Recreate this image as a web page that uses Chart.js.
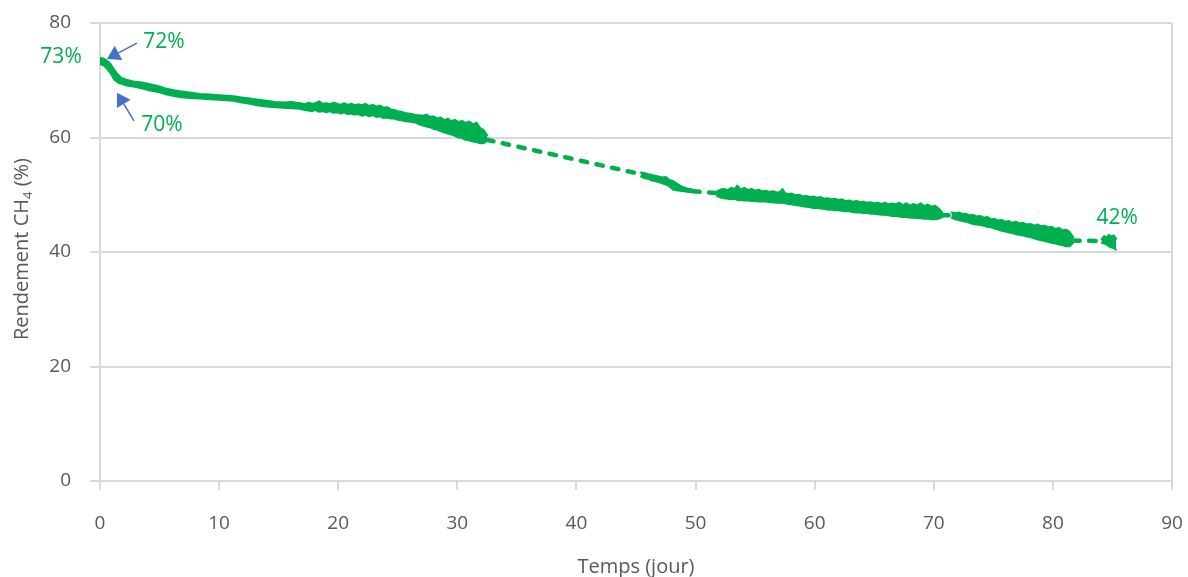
<!DOCTYPE html>
<html><head><meta charset="utf-8">
<script src="https://cdn.jsdelivr.net/npm/chart.js@4/dist/chart.umd.min.js"></script>
<style>html,body{margin:0;padding:0;background:#fff}canvas{display:block}</style>
</head><body>
<canvas id="c" width="1188" height="577"></canvas>
<script>
// ---- Data ----
const xTickValues = [0,10,20,30,40,50,60,70,80,90];
const yTickValues = [0,20,40,60,80];

// Measured data, drawn as a noisy band: upper / lower edge per segment (day, % CH4)
const days1 = [0,0.3,0.6,0.9,1.2,1.5,1.8,2.2,2.8,3.5,4.2,5.0,5.6,6.3,7.0,7.7,8.4,9.2,10.0,10.6,11.2,11.9,12.6,13.3,14.0,14.7,15.4,16.1,16.8,17.2,17.5,17.8,18.1,18.4,18.7,19.0,19.3,19.6,19.9,20.2,20.5,20.8,21.1,21.4,21.7,22.0,22.3,22.6,22.9,23.2,23.5,23.8,24.1,24.4,24.7,25.0,25.3,25.6,25.9,26.2,26.5,26.8,27.1,27.4,27.7,28.0,28.3,28.6,28.9,29.2,29.5,29.8,30.1,30.4,30.7,31.0,31.3,31.6,31.9,32.2,32.5];
const high1 = [73.9,73.8,73.4,72.8,71.8,71.0,70.4,70.1,69.8,69.6,69.3,68.9,68.5,68.2,68.0,67.8,67.6,67.5,67.4,67.3,67.2,67.0,66.8,66.6,66.4,66.2,66.1,66.2,66.0,65.8,66.1,65.9,66.0,66.3,65.9,66.0,65.8,66.1,65.9,65.7,66.0,65.7,65.9,65.6,65.8,65.6,65.9,65.5,65.7,65.4,65.6,65.2,65.3,64.9,64.8,64.6,64.5,64.3,64.2,64.1,63.9,63.9,63.8,64.0,63.6,63.7,63.3,63.5,63.0,63.3,62.8,63.1,62.7,62.9,62.5,62.8,62.3,62.6,61.7,61.3,60.4];
const low1  = [72.8,72.6,72.0,71.2,70.1,69.6,69.4,69.1,68.9,68.6,68.2,67.9,67.5,67.2,67.0,66.9,66.8,66.7,66.6,66.5,66.4,66.1,65.9,65.6,65.4,65.3,65.2,65.1,65.0,64.8,64.7,64.6,64.8,64.5,64.6,64.4,64.6,64.3,64.4,64.2,64.4,64.1,64.2,64.0,64.1,63.8,64.0,63.7,63.9,63.6,63.7,63.4,63.5,63.3,63.3,63.1,63.0,62.9,62.8,62.7,62.6,62.3,62.1,61.9,61.8,61.5,61.4,61.1,60.9,60.7,60.5,60.3,60.0,59.9,59.6,59.5,59.3,59.2,59.0,59.0,59.4];

const days2 = [45.4,45.7,46.0,46.3,46.6,46.9,47.2,47.5,47.8,48.1,48.4,48.7,49.0,49.3,49.6,49.8];
const high2 = [53.9,53.8,53.6,53.5,53.3,53.2,53.0,53.1,52.6,52.4,52.0,51.6,51.3,51.1,51.0,50.9];
const low2  = [53.2,52.9,52.8,52.5,52.4,52.2,52.0,51.8,51.5,50.9,50.8,50.7,50.6,50.5,50.5,50.4];

const days3 = [51.8,52.1,52.4,52.7,53.0,53.3,53.5,53.8,54.1,54.4,54.7,55.0,55.3,55.6,55.9,56.2,56.5,56.8,57.1,57.3,57.5,57.8,58.1,58.4,58.7,59.0,59.3,59.6,59.9,60.2,60.5,60.8,61.1,61.4,61.7,62.0,62.3,62.6,62.9,63.2,63.5,63.8,64.1,64.4,64.7,65.0,65.3,65.6,65.9,66.2,66.5,66.8,67.1,67.4,67.7,68.0,68.3,68.6,68.9,69.2,69.5,69.8,70.1,70.4,70.7];
const high3 = [50.6,50.9,51.0,50.8,51.2,51.0,51.6,50.9,51.2,50.8,51.0,50.7,50.9,50.6,50.7,50.5,50.6,50.4,50.5,51.0,50.3,50.1,50.2,49.9,50.0,49.7,49.8,49.6,49.7,49.5,49.6,49.3,49.4,49.2,49.3,49.1,49.2,48.9,49.0,48.8,48.9,48.7,48.8,48.6,48.7,48.5,48.6,48.4,48.6,48.3,48.5,48.3,48.6,48.2,48.5,48.1,48.4,48.1,48.5,48.0,48.3,47.9,48.1,47.6,46.9];
const low3  = [49.8,49.5,49.4,49.3,49.2,49.3,49.1,49.1,49.0,49.0,48.9,48.9,48.8,48.8,48.8,48.7,48.7,48.6,48.6,48.6,48.5,48.4,48.3,48.2,48.1,48.0,47.9,47.8,47.7,47.7,47.6,47.5,47.4,47.4,47.3,47.3,47.2,47.1,47.1,47.0,46.9,46.9,46.8,46.8,46.7,46.7,46.6,46.5,46.5,46.4,46.3,46.3,46.2,46.1,46.1,46.0,46.0,45.9,45.9,45.8,45.8,45.7,45.7,45.8,46.1];

const days4 = [71.5,71.8,72.1,72.4,72.7,73.0,73.3,73.6,73.9,74.2,74.5,74.8,75.1,75.4,75.7,76.0,76.3,76.6,76.9,77.2,77.5,77.8,78.1,78.4,78.7,79.0,79.3,79.6,79.9,80.2,80.5,80.8,81.1,81.4,81.7];
const high4 = [46.9,46.8,46.9,46.6,46.7,46.4,46.5,46.2,46.3,46.0,46.1,45.7,45.8,45.5,45.6,45.3,45.4,45.1,45.3,45.0,45.1,44.8,44.9,44.6,44.8,44.5,44.6,44.3,44.4,44.0,44.2,43.8,43.9,43.5,42.6];
const low4  = [46.0,45.7,45.6,45.4,45.3,45.1,44.9,44.8,44.7,44.6,44.4,44.3,44.1,43.9,43.7,43.6,43.4,43.3,43.1,43.0,42.9,42.7,42.6,42.4,42.2,42.1,41.9,41.8,41.6,41.5,41.3,41.2,41.0,41.0,41.6];

const days5 = [84.1,84.3,84.5,84.7,84.9,85.1,85.3];
const high5 = [42.2,42.8,42.5,43.0,42.7,42.9,42.3];
const low5  = [41.6,41.5,41.3,41.0,40.8,40.7,40.4];

// dashed connectors over missing data
const gapStartDays = [32.5,49.8,70.7,81.7];
const gapStartVals = [59.6,50.6,46.4,42.0];
const gapEndDays   = [45.4,51.8,71.5,84.1];
const gapEndVals   = [53.6,50.3,46.4,41.9];

// annotations
const labelTexts = ['73%','72%','70%','42%'];
const labelDays  = [-3.27,5.37,5.2,85.4];
const labelVals  = [74.06,76.7,62.2,45.9];
const arrowTailDays = [3.1,2.85];
const arrowTailVals = [76.5,62.9];
const arrowTipDays  = [0.59,1.43];
const arrowTipVals  = [73.7,67.8];

// ---- Build datasets ----
const GREEN = '#00B050';
const GRID = '#D9D9D9';
const TXT = '#595959';
const FONT = "'Open Sans', 'Noto Sans', sans-serif";

const datasets = [];
[[days1,high1,low1],[days2,high2,low2],[days3,high3,low3],[days4,high4,low4],[days5,high5,low5]].forEach(s=>{
  const base = {borderColor:GREEN, backgroundColor:GREEN, borderWidth:2, pointRadius:0, tension:0,
                borderJoinStyle:'round', borderCapStyle:'round'};
  datasets.push(Object.assign({}, base, {data:s[0].map((d,j)=>({x:d,y:s[1][j]})), fill:false}));
  datasets.push(Object.assign({}, base, {data:s[0].map((d,j)=>({x:d,y:s[2][j]})), fill:'-1'}));
});
const gaps = [];
gapStartDays.forEach((d,i)=>{
  if(i>0) gaps.push({x:d,y:null});
  gaps.push({x:d,y:gapStartVals[i]});
  gaps.push({x:gapEndDays[i],y:gapEndVals[i]});
});
datasets.push({ data:gaps, borderColor:GREEN, borderWidth:4.5, borderDash:[6.5,9.5],
  borderCapStyle:'round', pointRadius:0, tension:0, spanGaps:false, fill:false });

const extras = {
  id:'extras',
  beforeDatasetsDraw(chart){
    const {ctx, chartArea:a} = chart;
    ctx.save();
    ctx.strokeStyle = GRID; ctx.lineWidth = 2;
    ctx.beginPath(); ctx.moveTo(a.right, a.top); ctx.lineTo(a.right, a.bottom); ctx.stroke();
    ctx.restore();
  },
  afterDatasetsDraw(chart){
    const {ctx, scales:{x,y}} = chart;
    ctx.save();
    ctx.fillStyle = GREEN;
    ctx.font = "21px " + FONT;
    ctx.textAlign = 'center'; ctx.textBaseline = 'middle';
    labelTexts.forEach((t,i)=>ctx.fillText(t, x.getPixelForValue(labelDays[i]), y.getPixelForValue(labelVals[i])));
    ctx.strokeStyle = '#4472C4'; ctx.fillStyle = '#4472C4'; ctx.lineWidth = 1.5;
    arrowTailDays.forEach((d,i)=>{
      const x0 = x.getPixelForValue(d), y0 = y.getPixelForValue(arrowTailVals[i]);
      const x1 = x.getPixelForValue(arrowTipDays[i]), y1 = y.getPixelForValue(arrowTipVals[i]);
      const ang = Math.atan2(y1-y0, x1-x0);
      const L = 13, W = 8;
      const bx = x1 - L*Math.cos(ang), by = y1 - L*Math.sin(ang);
      ctx.beginPath(); ctx.moveTo(x0,y0); ctx.lineTo(bx,by); ctx.stroke();
      ctx.beginPath();
      ctx.moveTo(x1,y1);
      ctx.lineTo(bx + W*Math.sin(ang), by - W*Math.cos(ang));
      ctx.lineTo(bx - W*Math.sin(ang), by + W*Math.cos(ang));
      ctx.closePath(); ctx.fill();
    });
    ctx.fillStyle = TXT;
    ctx.textBaseline = 'alphabetic';
    ctx.font = "20px " + FONT;
    ctx.textAlign = 'center';
    ctx.fillText('Temps (jour)', (chart.chartArea.left+chart.chartArea.right)/2, 573);
    const p1 = 'Rendement CH', sub = '4', p2 = ' (%)';
    ctx.font = "20px " + FONT; const w1 = ctx.measureText(p1).width, w3 = ctx.measureText(p2).width;
    ctx.font = "13px " + FONT; const w2 = ctx.measureText(sub).width;
    const tot = w1+w2+w3;
    ctx.translate(28, (chart.chartArea.top+chart.chartArea.bottom)/2 - 3);
    ctx.rotate(-Math.PI/2);
    ctx.textAlign = 'left';
    let cx = -tot/2;
    ctx.font = "20px " + FONT; ctx.fillText(p1, cx, 0); cx += w1;
    ctx.font = "13px " + FONT; ctx.fillText(sub, cx, 4); cx += w2;
    ctx.font = "20px " + FONT; ctx.fillText(p2, cx, 0);
    ctx.restore();
  }
};

new Chart(document.getElementById('c'), {
  type:'line',
  data:{ datasets },
  options:{
    responsive:false, animation:false, devicePixelRatio:1,
    layout:{ padding:{ top:23, right:16, left:0, bottom:0 } },
    plugins:{ legend:{display:false}, tooltip:{enabled:false} },
    scales:{
      x:{ type:'linear', min:0, max:90,
          afterBuildTicks(s){ s.ticks = xTickValues.map(v=>({value:v})); },
          afterFit(s){ s.height = 96; s.paddingLeft = 0; s.paddingRight = 0; },
          grid:{ drawOnChartArea:false, drawTicks:true, tickLength:9, tickColor:GRID, lineWidth:2 },
          border:{ display:true, color:GRID, width:2 },
          ticks:{ color:TXT, font:{ family:FONT, size:19 }, padding:22, maxRotation:0 },
          title:{ display:false } },
      y:{ type:'linear', min:0, max:80,
          afterBuildTicks(s){ s.ticks = yTickValues.map(v=>({value:v})); },
          afterFit(s){ s.width = 100; s.paddingTop = 0; s.paddingBottom = 0; },
          grid:{ color:GRID, lineWidth:2, drawTicks:true, tickLength:10, tickColor:GRID },
          border:{ display:true, color:GRID, width:2 },
          ticks:{ color:TXT, font:{ family:FONT, size:19 }, padding:19 },
          title:{ display:false } }
    }
  },
  plugins:[extras]
});
</script>
</body></html>
